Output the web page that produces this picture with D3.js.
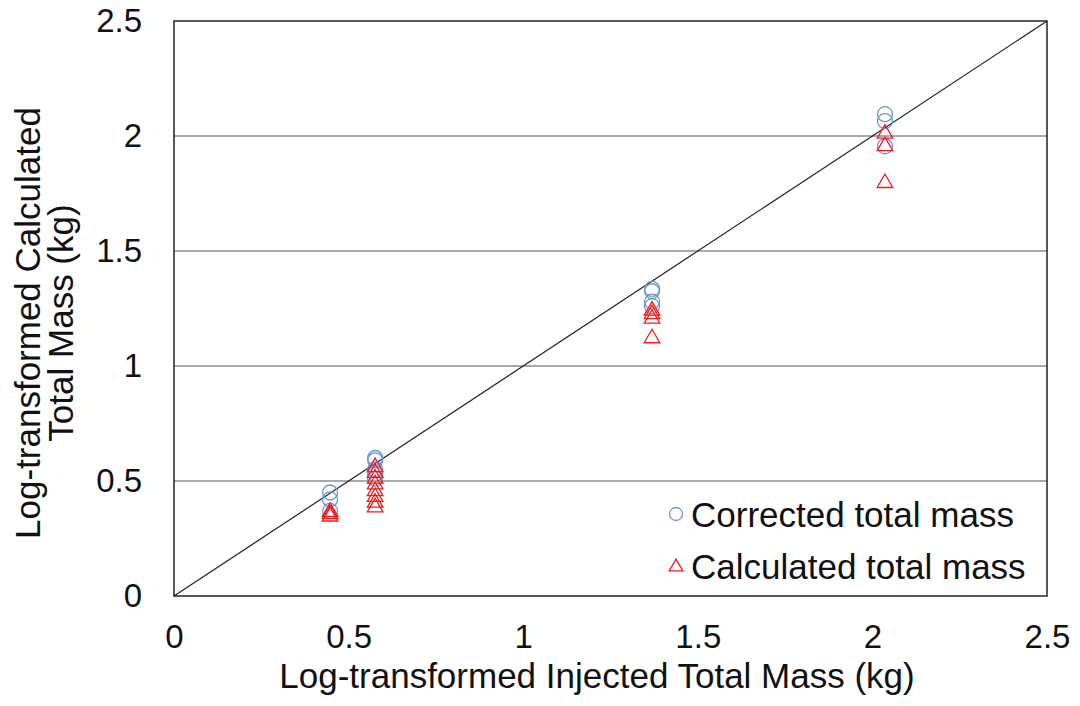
<!DOCTYPE html>
<html>
<head>
<meta charset="utf-8">
<script src="https://cdn.jsdelivr.net/npm/d3@7"></script>
<style>
  body { margin: 0; background: #fff; }
  text { font-family: "Liberation Sans", Arial, sans-serif; fill: #111; }
</style>
</head>
<body>
<script>
// data: x = log injected mass, y = log calculated mass
var correctedX = [0.447, 0.447, 0.447,
                  0.576, 0.576, 0.576, 0.576, 0.576,
                  1.369, 1.369, 1.369, 1.369,
                  2.036, 2.036, 2.036];
var correctedY = [0.45, 0.42, 0.37,
                  0.60, 0.59, 0.55, 0.53, 0.51,
                  1.335, 1.325, 1.28, 1.26,
                  2.095, 2.065, 1.955];
var calculatedX = [0.447, 0.447, 0.447,
                   0.576, 0.576, 0.576, 0.576, 0.576, 0.576, 0.576, 0.576,
                   1.369, 1.369, 1.369, 1.369,
                   2.036, 2.036, 2.036];
var calculatedY = [0.37, 0.36, 0.35,
                   0.565, 0.54, 0.515, 0.49, 0.46, 0.435, 0.41, 0.39,
                   1.245, 1.23, 1.21, 1.125,
                   2.015, 1.96, 1.80];
var xTicks = [0, 0.5, 1, 1.5, 2, 2.5];
var yTicks = [0, 0.5, 1, 1.5, 2, 2.5];
var gridTicks = [0.5, 1, 1.5, 2];
var legendLabels = ["Corrected total mass", "Calculated total mass"];

// dimensions
var width = 1080;
var height = 706;
var margin = { top: 21, right: 33, bottom: 110, left: 174 };
var w = width - margin.left - margin.right;
var h = height - margin.top - margin.bottom;

var svg = d3.select("body")
    .append("svg")
    .attr("width", width)
    .attr("height", height);

var g = svg.append("g")
    .attr("transform", "translate(" + margin.left + "," + margin.top + ")");

var x = d3.scaleLinear().domain([0, 2.5]).range([0, w]);
var y = d3.scaleLinear().domain([0, 2.5]).range([h, 0]);

// gridlines
g.selectAll(".grid")
    .data(gridTicks)
    .enter().append("line")
    .attr("x1", 0).attr("x2", w)
    .attr("y1", function(d) { return y(d); })
    .attr("y2", function(d) { return y(d); })
    .attr("stroke", "#8c8c8c")
    .attr("stroke-width", 1.3);

// axes (labels only, box drawn separately)
var xAxis = g.append("g")
    .attr("transform", "translate(0," + h + ")")
    .call(d3.axisBottom(x).tickValues(xTicks).tickSize(0).tickPadding(29)
        .tickFormat(function(d) { return d; }));
xAxis.select(".domain").remove();
xAxis.selectAll("text").style("font-size", "33px").style("font-family", "Liberation Sans, Arial, sans-serif").attr("fill", "#111");

var yAxis = g.append("g")
    .call(d3.axisLeft(y).tickValues(yTicks).tickSize(0).tickPadding(32)
        .tickFormat(function(d) { return d; }));
yAxis.select(".domain").remove();
yAxis.selectAll("text").style("font-size", "33px").style("font-family", "Liberation Sans, Arial, sans-serif").attr("fill", "#111");

// 1:1 line
g.append("line")
    .attr("x1", x(0)).attr("y1", y(0))
    .attr("x2", x(2.5)).attr("y2", y(2.5))
    .attr("stroke", "#222")
    .attr("stroke-width", 1.2);

// plot box
g.append("rect")
    .attr("width", w).attr("height", h)
    .attr("fill", "none")
    .attr("stroke", "#222")
    .attr("stroke-width", 1.5);

var circleColor = "#6f95d2";
var triColor = "#ee1c1c";
var tri = d3.symbol().type(d3.symbolTriangle).size(105);

// corrected points
g.selectAll(".corr")
    .data(correctedX)
    .enter().append("circle")
    .attr("cx", function(d) { return x(d); })
    .attr("cy", function(d, i) { return y(correctedY[i]); })
    .attr("r", 7.5)
    .attr("fill", "none")
    .attr("stroke", circleColor)
    .attr("stroke-width", 1.3);

// calculated points
g.selectAll(".calc")
    .data(calculatedX)
    .enter().append("path")
    .attr("d", tri)
    .attr("transform", function(d, i) {
        return "translate(" + x(d) + "," + (y(calculatedY[i]) + 1) + ")";
    })
    .attr("fill", "none")
    .attr("stroke", triColor)
    .attr("stroke-width", 1.3);

// legend
var legend = svg.append("g").attr("transform", "translate(676,514)");
legend.append("circle")
    .attr("r", 6.5).attr("fill", "none")
    .attr("stroke", circleColor).attr("stroke-width", 1.3);
legend.append("path")
    .attr("d", d3.symbol().type(d3.symbolTriangle).size(80))
    .attr("transform", "translate(0,53)")
    .attr("fill", "none").attr("stroke", triColor).attr("stroke-width", 1.3);
legend.selectAll(".lt")
    .data(legendLabels)
    .enter().append("text")
    .attr("x", 15)
    .attr("y", function(d, i) { return 13 + i * 52; })
    .style("font-size", "35px")
    .text(function(d) { return d; });

// axis titles
svg.append("text")
    .attr("x", 597)
    .attr("y", 688)
    .attr("text-anchor", "middle")
    .style("font-size", "35px")
    .text("Log-transformed Injected Total Mass (kg)");

svg.append("text")
    .attr("transform", "translate(40,323) rotate(-90)")
    .attr("text-anchor", "middle")
    .style("font-size", "35px")
    .text("Log-transformed Calculated");

svg.append("text")
    .attr("transform", "translate(73,323) rotate(-90)")
    .attr("text-anchor", "middle")
    .style("font-size", "35px")
    .text("Total Mass (kg)");
</script>
</body>
</html>
